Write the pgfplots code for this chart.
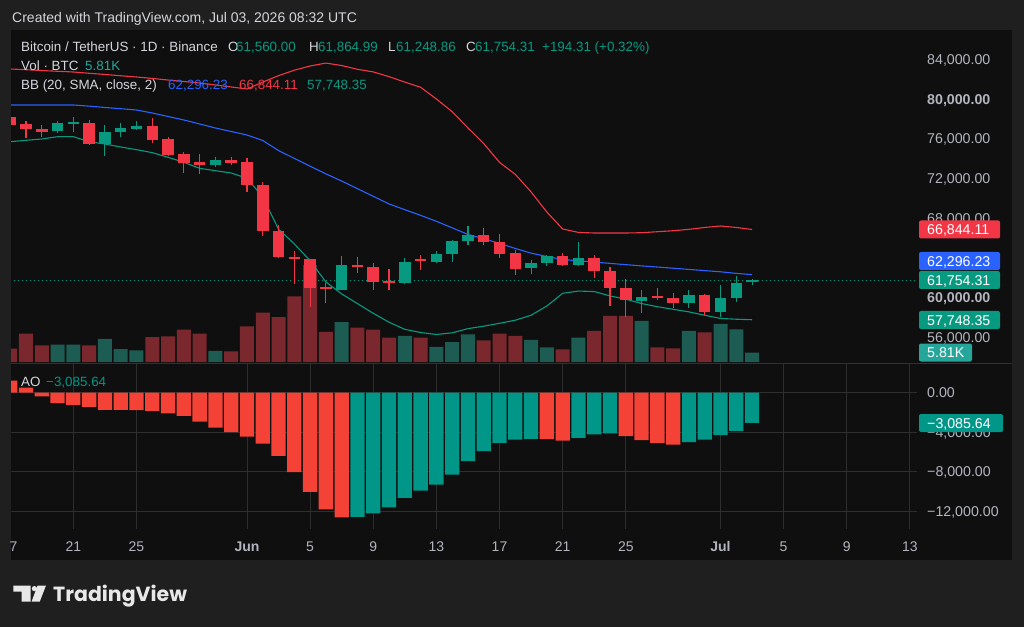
\documentclass[border=0pt]{standalone}
\usepackage{fontspec}
\setmainfont{Liberation Sans}
\newfontfamily\logofont{Poppins}
\usepackage{pgfplots}
\pgfplotsset{compat=1.18}
\usepackage{pgfplotstable}
\usepgfplotslibrary{fillbetween}

\definecolor{outerbg}{RGB}{31,31,31}
\definecolor{panelbg}{RGB}{15,15,15}
\definecolor{gridc}{RGB}{46,46,46}
\definecolor{sepc}{RGB}{48,48,48}
\definecolor{hdr}{RGB}{212,214,220}
\definecolor{ticktxt}{RGB}{178,181,190}
\definecolor{cred}{RGB}{242,54,69}
\definecolor{cgreen}{RGB}{8,153,129}
\definecolor{cblue}{RGB}{41,98,255}
\definecolor{vred}{RGB}{122,40,45}
\definecolor{vgreen}{RGB}{28,92,82}
\definecolor{aored}{RGB}{244,67,54}
\definecolor{aogreen}{RGB}{0,150,136}
\definecolor{bandfill}{RGB}{30,38,58}
\definecolor{volteal}{RGB}{38,166,154}
\definecolor{logoc}{RGB}{232,232,232}

\newcommand\fs[1]{\fontsize{#1}{#1}\selectfont}

% candles: d = days from Jun 1
\pgfplotstableread{
d o h l c v
-15 78154 78300 77300 77377 8.4
-14 77448 77811 76037 76944 17.8
-13 76944 77377 76138 76702 10.4
-10 77609 77882 75362 75462 10.4
-6 77277 78053 75593 75866 15.6
-5 75936 76138 74253 74354 16.1
-4 74424 74686 72569 73517 20.3
-3 73648 74454 72438 73376 17.8
-1 73850 74182 73345 73578 6.7
0 73618 74021 70654 71330 22.3
1 71330 71632 66189 66693 30.9
2 66727 67297 63950 64102 28.1
3 64102 64707 61350 63840 41.1
4 63840 63900 59062 60977 60.6
5 61078 61421 59466 60816 18.8
7 63265 64102 62429 63033 21.5
8 63033 63437 60750 61582 20.3
9 61683 62832 60750 61420 15.3
11 63840 64274 62761 63700 15.3
15 66290 66964 65281 65615 13.6
16 65615 66390 63940 64370 17.8
17 64440 64780 62275 62830 16.3
20 64174 64510 63200 63265 7.9
22 63935 64274 61924 62661 19.4
23 62661 63101 59130 60977 28.8
24 60977 61823 58054 59737 28.8
26 60140 60917 59737 59910 9.2
27 59972 60474 58900 59469 8.6
29 60245 60300 58226 58560 18.6
}\downc

\pgfplotstableread{
d o h l c v
-12 76773 77811 76541 77549 10.9
-11 77478 78214 76702 77680 10.9
-9 75462 77377 74254 76702 14.4
-8 76672 77549 76138 77045 8.1
-7 76974 77811 76873 77307 7.3
-2 73350 74182 73174 73850 6.9
6 60750 64174 60750 63265 25.0
10 61420 63940 61400 63567 16.3
12 63567 64707 63500 64370 9.4
13 64370 65785 63598 65716 12.5
14 65716 67197 65281 66290 17.3
18 62930 63769 62358 63500 13.8
19 63500 64274 63164 64174 9.2
21 63265 65553 63200 63935 15.2
25 59670 60750 58397 60010 25.8
28 59469 60750 58900 60245 19.4
30 58500 61250 58054 59972 23.8
31 59905 62157 59570 61481 20.4
32 61560 61864.99 61248.86 61754.31 5.81
}\upc

\pgfplotstableread{
d u m l
-15 83022 79393 75694
-14 82950 79393 75835
-13 82870 79393 75966
-12 82790 79393 76198
-11 82720 79393 76198
-10 82590 79280 75694
-9 82470 79142 75462
-8 82340 79020 75160
-7 82216 78890 74890
-6 82070 78587 74590
-5 81910 78234 74120
-4 81760 77882 73620
-3 81611 77478 73013
-2 81410 77075 72770
-1 81210 76722 72540
0 81006 76370 72005
1 81700 75815 70120
2 82350 74800 66874
3 82900 74010 65393
4 83325 73224 63700
5 83620 72450 61550
6 83370 71730 60352
7 82990 70960 59375
8 82730 70190 58397
9 82250 69420 57500
10 81700 68840 56780
11 81180 68270 56460
12 80000 67670 56260
13 78720 67010 56430
14 77080 66350 56850
15 75500 65900 57100
16 73610 65450 57389
17 72400 64930 57700
18 70630 64460 58200
19 68600 64120 59133
20 66894 63815 60413
21 66550 63690 60640
22 66490 63560 60590
23 66490 63430 60150
24 66490 63300 59820
25 66520 63175 59380
26 66620 63060 59060
27 66720 62940 58800
28 66860 62820 58540
29 67050 62700 58200
30 67196 62580 57880
31 67050 62420 57800
32 66844.11 62296.23 57748.35
}\bb

\pgfplotstableread{
d a
-15 1190
-14 500
-13 -400
-12 -1085
-11 -1254
-10 -1458
-9 -1763
-8 -1770
-7 -1775
-6 -1864
-5 -2102
-4 -2373
-3 -2949
-2 -3560
-1 -4000
0 -4475
1 -5187
2 -6407
3 -8068
4 -10068
5 -11831
6 -12645
19 -4727
20 -4865
24 -4416
25 -4830
26 -5106
27 -5279
}\aodn

\pgfplotstableread{
d a
7 -12600
8 -12238
9 -11627
10 -10678
11 -9933
12 -9322
13 -8305
14 -6950
15 -5932
16 -5106
17 -4761
18 -4692
21 -4589
22 -4244
23 -4140
28 -5037
29 -4761
30 -4313
31 -3899
32 -3085.64
}\aoup

\pgfplotsset{
  pane/.style={scale only axis, width=906pt, xmin=-14.95, xmax=42.45,
    axis line style={draw=none}, tick style={draw=none},
    scaled y ticks=false, scaled x ticks=false,
    xtick={-11,-7,0,4,8,12,16,20,24,30,34,38,42},
    grid style={draw=gridc, line width=0.9pt}},
  pricepane/.style={pane, at={(11pt,264pt)}, anchor=south west,
    height=333pt, ymin=53387, ymax=86953},
  rlabels/.style={yticklabel pos=right,
    yticklabel style={anchor=base west, inner sep=0pt, xshift=10pt, yshift=-5.2pt,
      text=ticktxt, font=\fs{14.2}}},
}

\newcommand\pbox[4]{% y center px, colour, width px, text
  \fill[#2, rounded corners=2pt] (919,#1-9) rectangle (919+#3,#1+9);
  \node[anchor=base west, inner sep=0pt, text=white, font=\fs{14.2}] at (927,#1+5.2) {#4};
}

\begin{document}
\begin{tikzpicture}
\begin{scope}[x=1pt,y=-1pt,yshift=627pt]
  \fill[outerbg] (0,0) rectangle (1024,627);
  \fill[panelbg] (11,30) rectangle (1012,560);
\end{scope}

% price pane: grid and band fill
\begin{axis}[pricepane, rlabels, xmajorgrids, ymajorgrids, xticklabels={},
  ytick={56000,60000,64000,68000,72000,76000,80000,84000},
  yticklabels={{56,000.00},{\bfseries 60,000.00},{},{68,000.00},{72,000.00},{76,000.00},{\bfseries 80,000.00},{84,000.00}}]
  \addplot[draw=none, name path=bbup] table[x=d,y=u]{\bb};
  \addplot[draw=none, name path=bblo] table[x=d,y=l]{\bb};
  \addplot[fill=bandfill, fill opacity=0.6] fill between[of=bbup and bblo];
\end{axis}

% volume
\begin{axis}[pane, at={(11pt,264pt)}, anchor=south west, height=333pt,
  ymin=-0.6, ymax=207.5, xtick=\empty, ytick=\empty]
  \addplot[ybar, bar width=14pt, bar shift=0pt, fill=vred, draw=none] table[x=d,y=v]{\downc};
  \addplot[ybar, bar width=14pt, bar shift=0pt, fill=vgreen, draw=none] table[x=d,y=v]{\upc};
\end{axis}

% price: bands and candles
\begin{axis}[pricepane, xtick=\empty, ytick=\empty]
  \addplot[cred, line width=1.1pt] table[x=d,y=u]{\bb};
  \addplot[cblue, line width=1.1pt] table[x=d,y=m]{\bb};
  \addplot[cgreen, line width=1.1pt] table[x=d,y=l]{\bb};
  \addplot[cgreen, line width=0.9pt, dash pattern=on 1pt off 3pt] coordinates {(-15,61754.31) (43,61754.31)};
  % wicks
  \addplot[draw=none, mark=none, error bars/.cd, y dir=both, y explicit, error mark=none,
    error bar style={draw=cred, solid, line width=1.1pt}]
    table[x=d, y=c, y error plus expr=\thisrow{h}-\thisrow{c}, y error minus expr=\thisrow{c}-\thisrow{l}]{\downc};
  \addplot[draw=none, mark=none, error bars/.cd, y dir=both, y explicit, error mark=none,
    error bar style={draw=cgreen, solid, line width=1.1pt}]
    table[x=d, y=c, y error plus expr=\thisrow{h}-\thisrow{c}, y error minus expr=\thisrow{c}-\thisrow{l}]{\upc};
  % bodies
  \addplot[draw=none, mark=none, error bars/.cd, y dir=both, y explicit, error mark=none,
    error bar style={draw=cred, solid, line width=11.5pt}]
    table[x=d, y=c, y error plus expr=\thisrow{o}-\thisrow{c}, y error minus expr=0]{\downc};
  \addplot[draw=none, mark=none, error bars/.cd, y dir=both, y explicit, error mark=none,
    error bar style={draw=cgreen, solid, line width=11.5pt}]
    table[x=d, y=c, y error plus expr=0, y error minus expr=\thisrow{c}-\thisrow{o}]{\upc};
\end{axis}

% AO pane
\begin{axis}[pane, at={(11pt,98pt)}, anchor=south west, height=165pt,
  ymin=-13823, ymax=2886, rlabels, xmajorgrids, ymajorgrids,
  ytick={0,-4000,-8000,-12000},
  yticklabels={{0.00},{−4,000.00},{−8,000.00},{−12,000.00}},
  xticklabels={21,25,{\bfseries Jun},5,9,13,17,21,25,{\bfseries Jul},5,9,13},
  xticklabel style={anchor=base, inner sep=0pt, yshift=-22pt, text=ticktxt, font=\fs{14}}]
  \addplot[ybar, bar width=14.3pt, bar shift=0pt, fill=aored, draw=none] table[x=d,y=a]{\aodn};
  \addplot[ybar, bar width=14.3pt, bar shift=0pt, fill=aogreen, draw=none] table[x=d,y=a]{\aoup};
\end{axis}

\begin{scope}[x=1pt,y=-1pt,yshift=627pt]
  \draw[sepc, line width=1pt] (11,363.5) -- (1012,363.5);
  % right value boxes
  \pbox{229.5}{cred}{81}{66,844.11}
  \pbox{261}{cblue}{81}{62,296.23}
  \pbox{280}{cgreen}{81}{61,754.31}
  \pbox{320}{cgreen}{81}{57,748.35}
  \pbox{352.5}{volteal}{53}{5.81K}
  \pbox{423}{aogreen}{84}{−3,085.64}
  % partial first date label
  \node[anchor=base west, inner sep=0pt, text=ticktxt, font=\fs{14}] at (9.5,551) {7};
  % header
  \node[anchor=base west, inner sep=0pt, text=hdr, font=\fs{14}] at (12,22.7) {Created with TradingView.com, Jul 03, 2026 08:32 UTC};
  \begin{scope}[every node/.style={anchor=base west, inner sep=0pt, font=\fs{13.4}}]
    \node[text=hdr] at (21,51.7) {Bitcoin / TetherUS · 1D · Binance};
    \node[text=hdr] at (228,51.7) {O}; \node[text=cgreen] at (236,51.7) {61,560.00};
    \node[text=hdr] at (309,51.7) {H}; \node[text=cgreen] at (318,51.7) {61,864.99};
    \node[text=hdr] at (388,51.7) {L}; \node[text=cgreen] at (396,51.7) {61,248.86};
    \node[text=hdr] at (466,51.7) {C}; \node[text=cgreen] at (475,51.7) {61,754.31};
    \node[text=cgreen] at (542,51.7) {+194.31 (+0.32\%)};
    \node[text=hdr] at (21,70.7) {Vol · BTC};
    \node[text=volteal] at (85,70.7) {5.81K};
    \node[text=hdr] at (21,89.5) {BB (20, SMA, close, 2)};
    \node[text=cblue] at (168,89.5) {62,296.23};
    \node[text=cred] at (239,89.5) {66,844.11};
    \node[text=cgreen] at (307,89.5) {57,748.35};
    \node[text=hdr] at (21,386) {AO};
    \node[text=aogreen] at (46,386) {−3,085.64};
  \end{scope}
  % TradingView logo
  \fill[logoc] (13.3,585.5) -- (30.5,585.5) -- (30.5,601.5) -- (21.7,601.5) -- (21.7,591.5) -- (13.3,591.5) -- cycle;
  \fill[logoc] (34.4,588.6) circle (2.6);
  \fill[logoc] (37.6,585.5) -- (46,585.5) -- (39.8,601.5) -- (31.6,601.5) -- cycle;
  \node[anchor=base west, inner sep=0pt, text=logoc, font=\logofont\bfseries\fs{20.5}] at (53,601.5) {TradingView};
\end{scope}
\pgfresetboundingbox
\path[use as bounding box] (0pt,0pt) rectangle (1024pt,627pt);
\end{tikzpicture}
\end{document}
